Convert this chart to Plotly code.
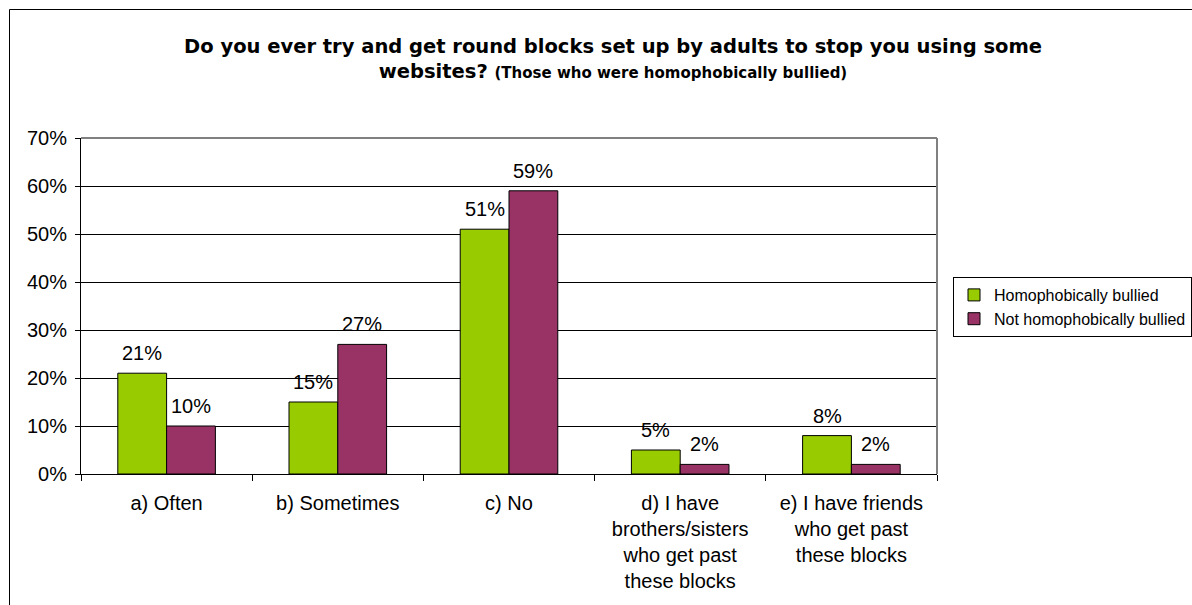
import plotly.graph_objects as go

# Survey answers (percent of respondents)
categories = [
    "a) Often",
    "b) Sometimes",
    "c) No",
    "d) I have<br>brothers/sisters<br>who get past<br>these blocks",
    "e) I have friends<br>who get past<br>these blocks",
]
bullied = [21, 15, 51, 5, 8]
not_bullied = [10, 27, 59, 2, 2]
y_ticks = [0, 10, 20, 30, 40, 50, 60, 70]
y_tick_labels = [f"{v}%" for v in y_ticks]

W, H = 1192, 605
L, R, T, B = 81, 937, 138, 474  # plot area in pixels
BARGAP = 0.43

def px_x(p):
    return (p - L) / (R - L)

def px_y(p):
    return (B - p) / (B - T)

FONT = "Liberation Sans, Arial, sans-serif"
TITLE_FONT = "DejaVu Sans, Liberation Sans, Arial, sans-serif"

fig = go.Figure()
fig.add_trace(go.Bar(
    x=categories, y=bullied, name="Homophobically bullied",
    marker=dict(color="#99CC00", line=dict(color="#000000", width=1)),
))
fig.add_trace(go.Bar(
    x=categories, y=not_bullied, name="Not homophobically bullied",
    marker=dict(color="#993366", line=dict(color="#000000", width=1)),
))

# Value labels above each bar, shifted sideways to sit over its bar
slot_px = (R - L) / len(categories)
bar_px = slot_px * (1 - BARGAP) / 2
for series, side in ((bullied, -1), (not_bullied, 1)):
    for cat, v in zip(categories, series):
        fig.add_annotation(
            x=cat, y=v, text=f"{v}%", showarrow=False,
            xshift=side * bar_px / 2, yshift=7, yanchor="bottom",
            font=dict(size=20, family=FONT, color="#000000"),
        )

fig.update_layout(
    width=W, height=H,
    margin=dict(l=L, r=W - R, t=T, b=H - B, autoexpand=False),
    paper_bgcolor="white", plot_bgcolor="white",
    barmode="group", bargap=BARGAP, bargroupgap=0,
    font=dict(family=FONT, size=20, color="#000000"),
    title=dict(
        text="Do you ever try and get round blocks set up by adults to stop you using some<br>"
             "websites? <span style='font-size:15px'>(Those who were homophobically bullied)</span>",
        x=px_x(613), xref="paper", xanchor="center",
        y=1 - 53 / H, yanchor="top",
        font=dict(size=19.5, family=TITLE_FONT, color="#000000", weight="bold"),
    ),
    legend=dict(
        x=px_x(953), xanchor="left", y=px_y(277), yanchor="top",
        xref="paper", yref="paper",
        bordercolor="#000000", borderwidth=1, bgcolor="white",
        font=dict(size=16, family=FONT),
        itemwidth=30,
    ),
    showlegend=True,
)

fig.update_xaxes(
    showline=True, linecolor="#000000", linewidth=1,
    ticks="outside", tickson="boundaries", ticklen=6, tickcolor="#000000",
    tickfont=dict(size=20), showgrid=False, ticklabelstandoff=11,
)
fig.update_yaxes(
    range=[0, 70], tickvals=y_ticks, ticktext=y_tick_labels,
    showline=True, linecolor="#000000", linewidth=1,
    ticks="outside", ticklen=5, tickcolor="#000000",
    showgrid=True, gridcolor="#000000", gridwidth=1,
    zeroline=False, tickfont=dict(size=20), ticklabelstandoff=4,
)

# Grey plot-area frame on top and right
fig.add_shape(type="line", xref="paper", yref="paper", x0=0, x1=1, y0=1, y1=1,
              line=dict(color="#808080", width=2))
fig.add_shape(type="line", xref="paper", yref="paper", x0=1, x1=1, y0=0, y1=1,
              line=dict(color="#808080", width=2))

# Outer chart border (extends beyond the visible page on right and bottom)
fig.add_shape(type="rect", xref="paper", yref="paper",
              x0=px_x(9.5), x1=px_x(W + 20), y0=px_y(H + 20), y1=px_y(9.5),
              line=dict(color="#000000", width=1), layer="below")

fig.write_html("out.html")
